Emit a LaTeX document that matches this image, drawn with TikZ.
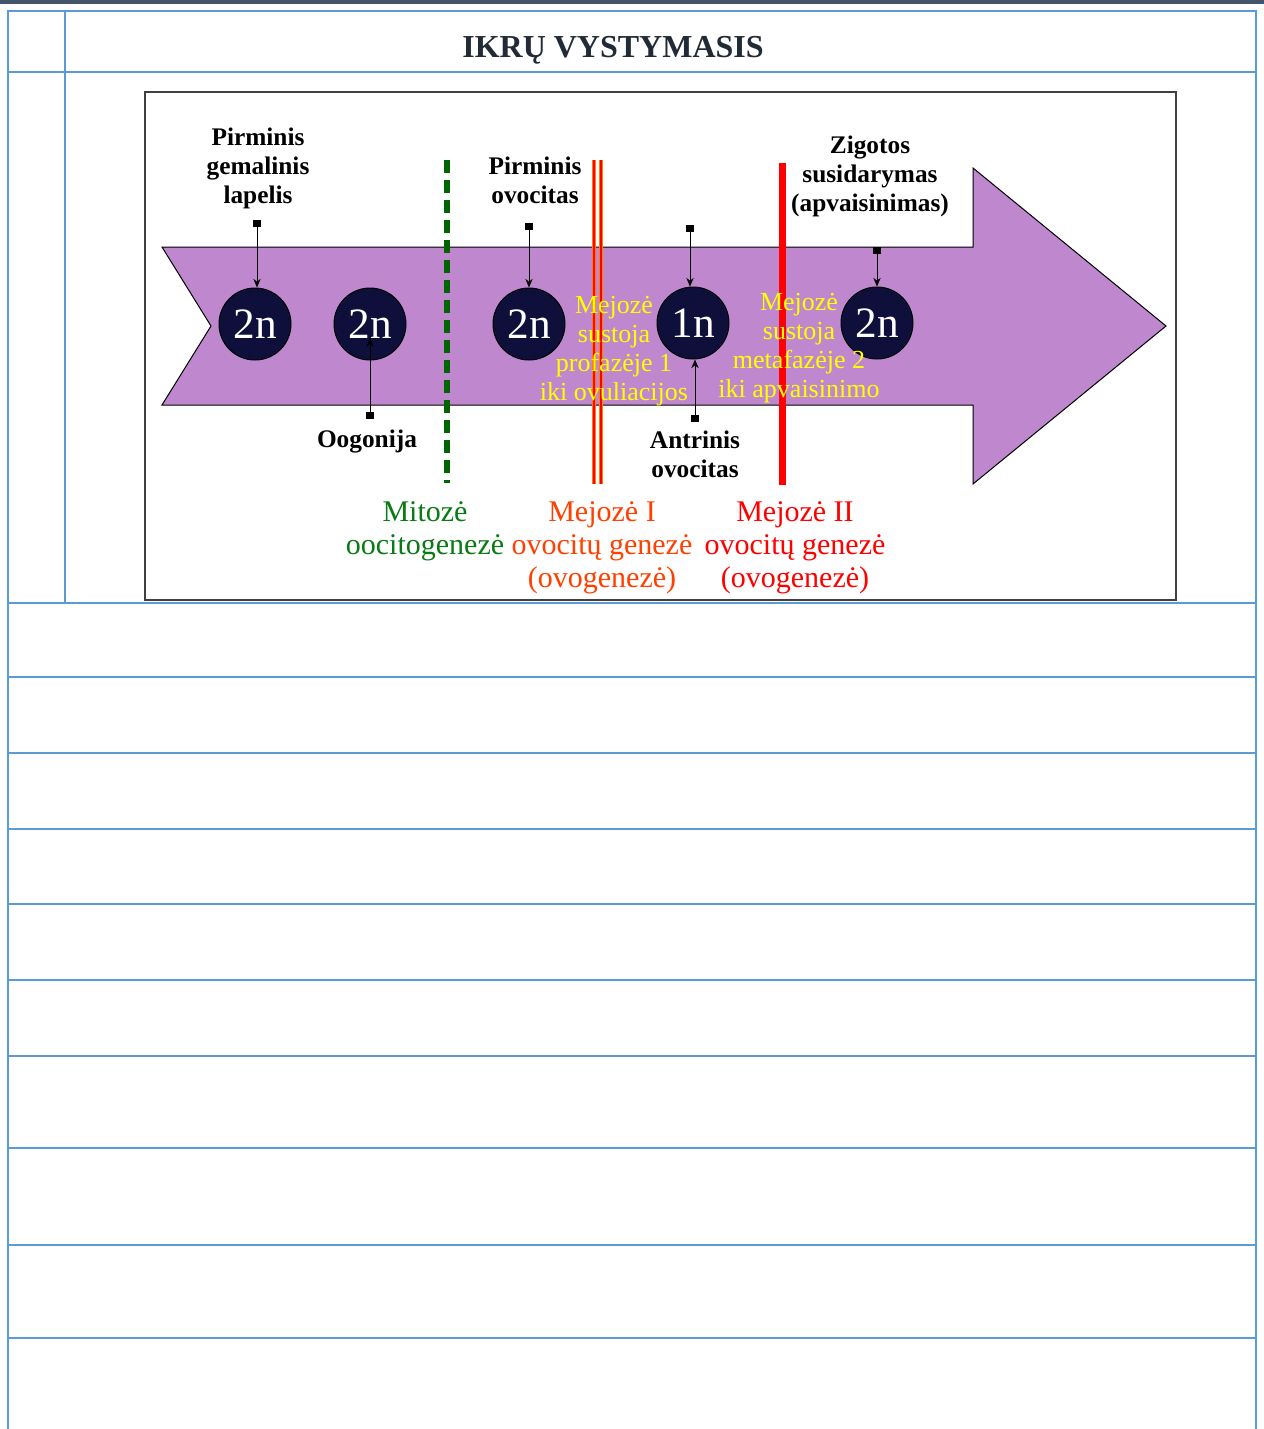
\documentclass[tikz,border=0pt]{standalone}
\usepackage{fontspec}
\setmainfont{Liberation Serif}
\usetikzlibrary{arrows.meta}
\definecolor{tblue}{HTML}{5B9BD5}
\definecolor{topbar}{HTML}{44546A}
\definecolor{framec}{HTML}{404040}
\definecolor{arrowc}{HTML}{BF88CE}
\definecolor{navy}{HTML}{0F0F3C}
\definecolor{dgreen}{HTML}{006400}
\definecolor{mgreen}{HTML}{0A7A14}
\definecolor{morange}{HTML}{FF4000}
\definecolor{mred}{HTML}{FF0000}
\definecolor{myellow}{HTML}{FFFF00}
\definecolor{titlec}{HTML}{222A35}
\tikzset{
  tline/.style={draw=tblue, line width=1.5pt},
  cellc/.style={circle, fill=navy, draw=black, line width=0.75pt, minimum size=54pt, inner sep=0pt, text=white, font=\fontsize{32.5}{32.5}\selectfont},
  conn/.style={line width=0.75pt, {Square[length=5.5pt,width=5.5pt]}-{Stealth[length=6.5pt,width=5.5pt]}},
  lab/.style={font=\bfseries\fontsize{19}{21.75}\selectfont, align=center, inner sep=0pt, text=black},
  ytext/.style={font=\fontsize{19.5}{21.75}\selectfont, align=center, inner sep=0pt, text=myellow},
  btext/.style={font=\fontsize{22.5}{24.75}\selectfont, align=center, inner sep=0pt},
  titletext/.style={font=\bfseries\fontsize{24}{28}\selectfont, text=titlec, inner sep=0pt},
  orline/.style={draw=orange, line width=3.4pt},
  rdline/.style={draw=mred, line width=1.8pt}
}
\begin{document}
\begin{tikzpicture}[x=0.75pt,y=-0.75pt]
\useasboundingbox (0,0) rectangle (1264,1429);
\fill[white] (0,0) rectangle (1264,1429);
\fill[topbar] (0,0) rectangle (1264,3.5);
% table
\draw[tline] (8,1429) -- (8,11) -- (1256,11) -- (1256,1429);
\draw[tline] (65,11) -- (65,603);
\foreach \yy in {72,603,677,753,829,904,980,1056,1148,1245,1338}
  \draw[tline] (8,\yy) -- (1256,\yy);
% title
\node[titletext] (title) at (613,50) {IKRŲ VYSTYMASIS};
% picture frame
\draw[framec, line width=2.2pt] (145,92) rectangle (1176,600);
% big arrow
\filldraw[fill=arrowc, draw=black, line width=0.75pt]
  (162,247) -- (973,247) -- (973,168) -- (1166,326) -- (973,484) -- (973,405) -- (162,405) -- (211,326) -- cycle;
% vertical lines
\draw[dgreen, line width=4.5pt, dash pattern=on 9.5pt off 5.5pt] (447,160) -- (447,483);
\draw[orline] (594,160) -- (594,484);
\draw[orline] (601,160) -- (601,484);
\draw[rdline] (594,160) -- (594,484);
\draw[rdline] (601,160) -- (601,484);
\draw[mred, line width=5.25pt] (782,163) -- (782,485);
% cells
\node[cellc] (c1) at (255,324) {2n};
\node[cellc] (c2) at (370,324) {2n};
\node[cellc] (c3) at (529,324) {2n};
\node[cellc] (c4) at (693,323) {1n};
\node[cellc] (c5) at (877,323) {2n};
% labels
\node[lab] (t1) at (258,168) {Pirminis\\gemalinis\\lapelis};
\node[lab] (t2) at (367,441) {Oogonija};
\node[lab] (t3) at (535,180) {Pirminis\\ovocitas};
\node[lab] (t4) at (695,454) {Antrinis\\ovocitas};
\node[lab] (t5) at (870,176) {Zigotos\\susidarymas\\(apvaisinimas)};
% connectors
\coordinate (s1) at (257,220);
\coordinate (s2) at (370,419);
\coordinate (og) at (370,338);
\coordinate (s3) at (529,223);
\coordinate (s4) at (690,225);
\coordinate (s5) at (695,422);
\coordinate (s6) at (877,247);
\draw[conn] (s1) -- (s1 |- c1.north);
\draw[conn] (s2) -- (og);
\draw[conn] (s3) -- (s3 |- c3.north);
\draw[conn] (s4) -- (s4 |- c4.north);
\draw[conn] (s5) -- (s5 |- c4.south);
\draw[conn] (s6) -- (s6 |- c5.north);
% yellow texts
\node[ytext] (y1) at (614,351) {Mejozė\\sustoja\\profazėje 1\\iki ovuliacijos};
\node[ytext] (y2) at (799,348) {Mejozė\\sustoja\\metafazėje 2\\iki apvaisinimo};
% bottom texts
\node[btext, text=mgreen] (b1) at (425,531) {Mitozė\\oocitogenezė};
\node[btext, text=morange] (b2) at (602,548) {Mejozė I\\ovocitų genezė\\(ovogenezė)};
\node[btext, text=mred] (b3) at (795,548) {Mejozė II\\ovocitų genezė\\(ovogenezė)};
\end{tikzpicture}
\end{document}
